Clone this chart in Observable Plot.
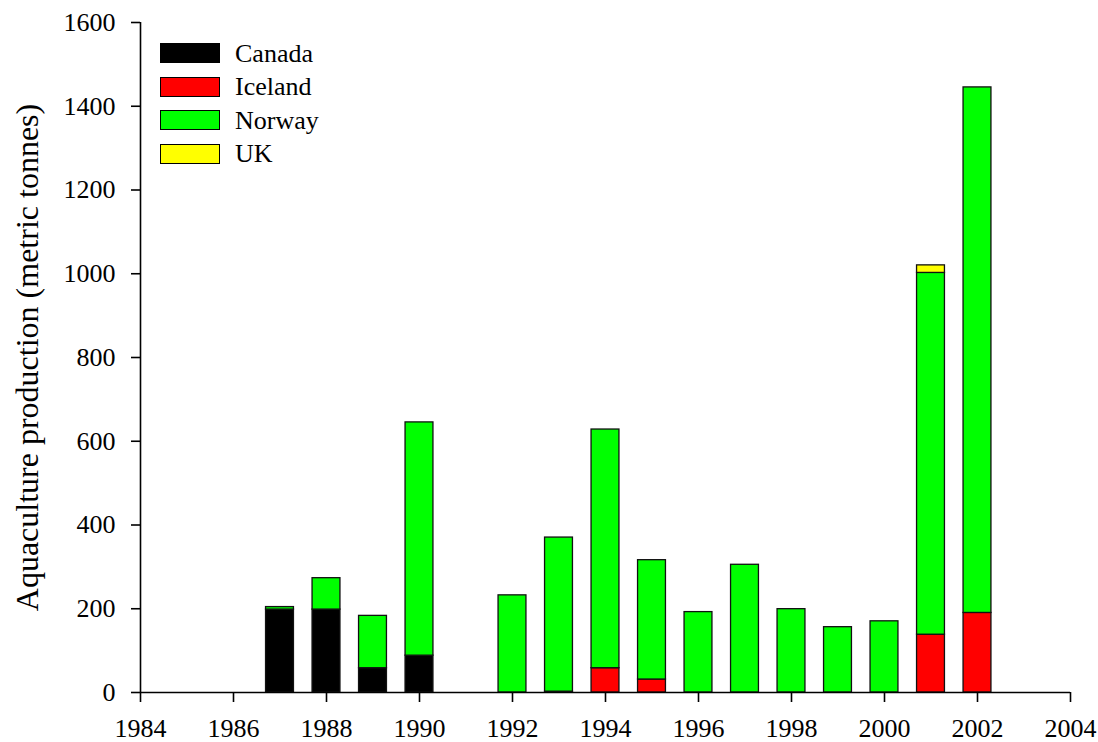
<!DOCTYPE html>
<html>
<head>
<meta charset="utf-8">
<script src="https://cdn.jsdelivr.net/npm/d3@7"></script>
<script src="https://cdn.jsdelivr.net/npm/@observablehq/plot@0.6"></script>
<style>
  html, body { margin: 0; padding: 0; background: white; }
  #wrap { position: relative; width: 1098px; height: 742px; }
  #wrap svg { font-family: "Liberation Serif", serif !important; }
  #wrap svg text { font-family: "Liberation Serif", serif !important; }
  #legend { position: absolute; left: 160px; top: 36.5px; font-family: "Liberation Serif", serif; font-size: 26px; color: black; }
  .row { display: flex; align-items: center; height: 33.6px; line-height: 33.6px; }
  .sw { width: 58px; height: 18px; border: 1px solid #000; margin-right: 15px; }
</style>
</head>
<body>
<div id="wrap"><div id="legend"></div></div>
<script>
const years   = [1987, 1988, 1989, 1990, 1992, 1993, 1994, 1995, 1996, 1997, 1998, 1999, 2000, 2001, 2002];
const canada  = [198, 198, 58, 88, 0, 2, 0, 0, 0, 0, 0, 0, 0, 0, 0];
const iceland = [0, 0, 0, 0, 0, 0, 58, 31, 0, 0, 0, 0, 0, 138, 190];
const norway  = [6, 75, 125, 557, 232, 368, 570, 285, 192, 305, 199, 156, 170, 864, 1255];
const uk      = [0, 0, 0, 0, 0, 0, 0, 0, 0, 0, 0, 0, 0, 18, 0];
const countries = ["Canada", "Iceland", "Norway", "UK"];
const colors    = ["#000000", "#ff0000", "#00ff00", "#ffff00"];
const xTicks = [1984, 1986, 1988, 1990, 1992, 1994, 1996, 1998, 2000, 2002, 2004];
const yTicks = [0, 200, 400, 600, 800, 1000, 1200, 1400, 1600];
const yLabel = "Aquaculture production (metric tonnes)";

const seriesValues = [canada, iceland, norway, uk];
const rows = [];
years.forEach((yr, i) => {
  let base = 0;
  countries.forEach((c, k) => {
    const v = seriesValues[k][i];
    if (v > 0) { rows.push({year: yr, country: c, y1: base, y2: base + v}); base += v; }
  });
});

const serif = "Liberation Serif";
const halfW = 0.3;
const chart = Plot.plot({
  width: 1098, height: 742,
  marginLeft: 140, marginRight: 28, marginTop: 22, marginBottom: 50,
  x: {domain: [1984, 2004]},
  y: {domain: [0, 1600]},
  color: {domain: countries, range: colors},
  style: {fontFamily: serif, fontSize: "26px", color: "black", background: "white"},
  marks: [
    Plot.rect(rows, {x1: d => d.year - halfW, x2: d => d.year + halfW, y1: "y1", y2: "y2",
      fill: "country", stroke: "#111", strokeWidth: 1.3}),
    Plot.ruleY([0], {stroke: "black", strokeWidth: 1.6}),
    Plot.ruleX([1984], {stroke: "black", strokeWidth: 1.6}),
    Plot.axisX({ticks: xTicks, tickFormat: d => String(d), tickSize: 10, tickPadding: 16, strokeWidth: 1.6,
      label: null, fontSize: 26, fontFamily: serif}),
    Plot.axisY({ticks: yTicks, tickFormat: d => String(d), tickSize: 9, tickPadding: 16, strokeWidth: 1.6,
      label: null, fontSize: 26, fontFamily: serif}),
    Plot.text([yLabel], {text: d => d, frameAnchor: "left", rotate: -90, dx: -113, textAnchor: "middle",
      lineAnchor: "middle", fontSize: 32, fontFamily: serif})
  ]
});
document.getElementById("wrap").prepend(chart);

const legend = document.getElementById("legend");
countries.forEach((c, k) => {
  const row = document.createElement("div");
  row.className = "row";
  const sw = document.createElement("div");
  sw.className = "sw";
  sw.style.background = colors[k];
  const t = document.createElement("span");
  t.textContent = c;
  row.appendChild(sw); row.appendChild(t);
  legend.appendChild(row);
});
</script>
</body>
</html>
